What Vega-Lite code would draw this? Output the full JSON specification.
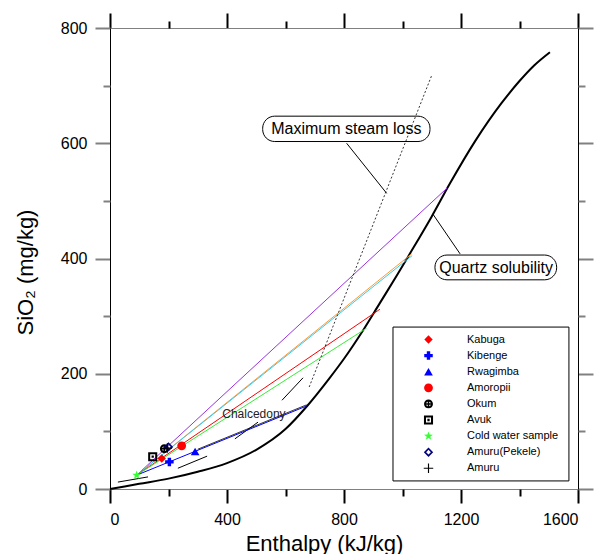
{
  "$schema": "https://vega.github.io/schema/vega-lite/v6.json",
  "width": 468,
  "height": 461,
  "autosize": "none",
  "padding": {"left": 110, "top": 28, "right": 17, "bottom": 65},
  "background": "white",
  "config": {"view": {"stroke": null}, "font": "Liberation Sans",
    "axis": {"grid": false, "ticks": true, "tickOpacity": 1, "labelFont": "Liberation Sans", "titleFont": "Liberation Sans", "labelColor": "black", "titleColor": "black", "titleFontWeight": "normal"},
    "axisX": {"ticks": true, "tickOpacity": 1},
    "axisY": {"ticks": true, "tickOpacity": 1},
    "axisBottom": {"ticks": true, "tickOpacity": 1},
    "axisLeft": {"ticks": true, "tickOpacity": 1}},
  "resolve": {"axis": {"x": "independent", "y": "independent"}},
  "layer": [
    {
      "layer": [
        {
          "data": {"values": [{"h": 967.5, "h2": 1569, "s": 14, "s2": 281}]},
          "mark": {"type": "rect", "fill": "white", "stroke": "black", "strokeWidth": 1},
          "encoding": {
            "x": {"field": "h", "type": "quantitative", "scale": {"domain": [0, 1600], "nice": false, "zero": false},
              "axis": {"title": "Enthalpy (kJ/kg)", "values": [0, 400, 800, 1200, 1600], "format": "d", "ticks": true, "tickOpacity": 1,
                "tickSize": 14, "tickWidth": 2, "tickColor": "black", "domainColor": "#808080", "domainWidth": 1, "labelFontSize": 16, "labelPadding": 8,
                "titleFontSize": 22, "titleX": 214, "titleY": 61, "titleBaseline": "alphabetic", "titleAnchor": "middle", "titleAlign": "center"}},
            "x2": {"field": "h2"},
            "y": {"field": "s", "type": "quantitative", "scale": {"domain": [0, 800], "nice": false, "zero": false},
              "axis": {"title": "SiO₂ (mg/kg)", "values": [0, 200, 400, 600, 800], "format": "d", "ticks": true, "tickOpacity": 1,
                "tickSize": 15, "tickWidth": 2, "tickColor": "#808080", "domainColor": "black", "domainWidth": 1, "labelFontSize": 16, "labelPadding": 8,
                "titleFontSize": 22, "titleAngle": -90, "titleX": -85, "titleY": 244, "titleBaseline": "middle", "titleAlign": "center", "titleAnchor": "middle"}},
            "y2": {"field": "s2"}
          }
        },
        {
          "data": {"values": [
            {"h": 0, "s": 0}, {"h": 100, "s": 9}, {"h": 200, "s": 18}, {"h": 300, "s": 30}, {"h": 400, "s": 45},
            {"h": 500, "s": 68}, {"h": 600, "s": 104}, {"h": 674, "s": 144}, {"h": 750, "s": 192}, {"h": 800, "s": 226},
            {"h": 866, "s": 276}, {"h": 923, "s": 323}, {"h": 980, "s": 370}, {"h": 1026, "s": 409}, {"h": 1100, "s": 473},
            {"h": 1162, "s": 530}, {"h": 1250, "s": 605}, {"h": 1339, "s": 670}, {"h": 1400, "s": 708}, {"h": 1450, "s": 735},
            {"h": 1504, "s": 758}
          ]},
          "mark": {"type": "line", "color": "black", "strokeWidth": 2, "interpolate": "monotone"},
          "encoding": {
            "x": {"field": "h", "type": "quantitative"},
            "y": {"field": "s", "type": "quantitative"}
          }
        },
        {
          "data": {"values": [
            {"seg": 1, "h": 27, "s": 12}, {"seg": 1, "h": 130, "s": 21},
            {"seg": 2, "h": 232, "s": 36}, {"seg": 2, "h": 332, "s": 57},
            {"seg": 3, "h": 427, "s": 87}, {"seg": 3, "h": 506, "s": 116},
            {"seg": 4, "h": 588, "s": 154}, {"seg": 4, "h": 660, "s": 193}
          ]},
          "mark": {"type": "line", "color": "black", "strokeWidth": 1},
          "encoding": {
            "x": {"field": "h", "type": "quantitative"},
            "y": {"field": "s", "type": "quantitative"},
            "detail": {"field": "seg", "type": "nominal"}
          }
        },
        {
          "data": {"values": [
            {"mix": "purple", "h": 91, "s": 24}, {"mix": "purple", "h": 1152, "s": 522},
            {"mix": "orange", "h": 91, "s": 24}, {"mix": "orange", "h": 1031, "s": 408},
            {"mix": "cyan", "h": 91, "s": 24}, {"mix": "cyan", "h": 1033, "s": 405},
            {"mix": "red", "h": 91, "s": 24}, {"mix": "red", "h": 923, "s": 312},
            {"mix": "green", "h": 91, "s": 24}, {"mix": "green", "h": 877, "s": 279},
            {"mix": "blue", "h": 91, "s": 24}, {"mix": "blue", "h": 672, "s": 144}
          ]},
          "mark": {"type": "line", "strokeWidth": 1},
          "encoding": {
            "x": {"field": "h", "type": "quantitative"},
            "y": {"field": "s", "type": "quantitative"},
            "stroke": {"field": "mix", "type": "nominal", "legend": null,
              "scale": {"domain": ["purple", "orange", "cyan", "red", "green", "blue"], "range": ["#9933DD", "#FF9933", "#33CCEE", "#FF0000", "#33EE33", "#0000FF"]}},
            "strokeWidth": {"field": "mix", "type": "nominal", "legend": null,
              "scale": {"domain": ["purple", "orange", "cyan", "red", "green", "blue"], "range": [1, 1, 1, 1, 1, 1.6]}}
          }
        },
        {
          "data": {"values": [{"h": 300, "s": 69}, {"h": 672, "s": 146}]},
          "mark": {"type": "line", "color": "black", "strokeWidth": 0.8},
          "encoding": {
            "x": {"field": "h", "type": "quantitative"},
            "y": {"field": "s", "type": "quantitative"}
          }
        },
        {
          "data": {"values": [
            {"h": 809, "s": 600, "h2": 946, "s2": 513},
            {"h": 1104, "s": 477, "h2": 1197, "s2": 408}
          ]},
          "mark": {"type": "rule", "color": "black", "strokeWidth": 1},
          "encoding": {
            "x": {"field": "h", "type": "quantitative"},
            "y": {"field": "s", "type": "quantitative"},
            "x2": {"field": "h2"},
            "y2": {"field": "s2"}
          }
        },
        {
          "data": {"values": [
            {"h": 522, "h2": 1094, "s": 603, "s2": 647},
            {"h": 1111, "h2": 1527, "s": 363, "s2": 406}
          ]},
          "mark": {"type": "rect", "fill": "white", "stroke": "black", "strokeWidth": 1, "cornerRadius": 12},
          "encoding": {
            "x": {"field": "h", "type": "quantitative"},
            "x2": {"field": "h2"},
            "y": {"field": "s", "type": "quantitative"},
            "y2": {"field": "s2"}
          }
        },
        {
          "data": {"values": [
            {"h": 808, "s": 625, "label": "Maximum steam loss"},
            {"h": 1320, "s": 384, "label": "Quartz solubility"}
          ]},
          "mark": {"type": "text", "fontSize": 16, "font": "Liberation Sans", "color": "black", "align": "center", "baseline": "middle"},
          "encoding": {
            "x": {"field": "h", "type": "quantitative"},
            "y": {"field": "s", "type": "quantitative"},
            "text": {"field": "label"}
          }
        },
        {
          "data": {"values": [{"h": 492, "s": 130, "label": "Chalcedony"}]},
          "mark": {"type": "text", "fontSize": 12, "font": "Liberation Sans", "color": "#222222", "align": "center", "baseline": "middle"},
          "encoding": {
            "x": {"field": "h", "type": "quantitative"},
            "y": {"field": "s", "type": "quantitative"},
            "text": {"field": "label"}
          }
        },
        {
          "data": {"values": [
            {"site": "Kabuga", "h": 177, "s": 53},
            {"site": "Kibenge", "h": 203, "s": 47},
            {"site": "Rwagimba", "h": 291, "s": 65},
            {"site": "Amoropii", "h": 245, "s": 75},
            {"site": "Okum", "h": 186, "s": 70},
            {"site": "Avuk", "h": 146, "s": 56},
            {"site": "Amuru(Pekele)", "h": 200, "s": 73},
            {"site": "Amuru", "h": 196, "s": 71},
            {"site": "Cold water sample", "h": 91, "s": 24}
          ]},
          "mark": {"type": "point", "filled": true, "opacity": 1, "strokeWidth": 0},
          "encoding": {
            "x": {"field": "h", "type": "quantitative"},
            "y": {"field": "s", "type": "quantitative"},
            "color": {"field": "site", "type": "nominal",
              "scale": {"domain": ["Kabuga", "Kibenge", "Rwagimba", "Amoropii", "Okum", "Avuk", "Cold water sample", "Amuru(Pekele)", "Amuru"],
                "range": ["#FF0000", "#0000FF", "#0000FF", "#FF0000", "#000000", "#000000", "#33FF33", "#000080", "#000000"]},
              "legend": {"orient": "none", "legendX": 313, "legendY": 306, "title": null, "labelFont": "Liberation Sans", "labelFontSize": 11, "labelColor": "black", "rowPadding": 4.1, "labelOffset": 33, "symbolStrokeWidth": 0, "gridAlign": "all", "padding": 0}},
            "shape": {"field": "site", "type": "nominal",
              "scale": {"domain": ["Kabuga", "Kibenge", "Rwagimba", "Amoropii", "Okum", "Avuk", "Cold water sample", "Amuru(Pekele)", "Amuru"],
                "range": ["diamond", "cross", "triangle-up", "circle",
                  "M-1,0A1,1,0,1,1,1,0A1,1,0,1,1,-1,0Z M-0.55,0A0.55,0.55,0,1,0,0.55,0A0.55,0.55,0,1,0,-0.55,0Z M-0.8,-0.17L0.8,-0.17L0.8,0.17L-0.8,0.17Z M-0.17,-0.8L0.17,-0.8L0.17,0.8L-0.17,0.8Z",
                  "M-1,-1L1,-1L1,1L-1,1Z M-0.55,-0.55L-0.55,0.55L0.55,0.55L0.55,-0.55Z M-0.25,-0.25L0.25,-0.25L0.25,0.25L-0.25,0.25Z",
                  "M0,-1L0.235,-0.324L0.951,-0.309L0.38,0.124L0.588,0.809L0,0.4L-0.588,0.809L-0.38,0.124L-0.951,-0.309L-0.235,-0.324Z",
                  "M0,-1L1,0L0,1L-1,0Z M0,-0.5L-0.5,0L0,0.5L0.5,0Z",
                  "M-1,-0.12L1,-0.12L1,0.12L-1,0.12Z M-0.12,-1L0.12,-1L0.12,1L-0.12,1Z"]},
              "legend": {"orient": "none", "legendX": 313, "legendY": 306, "title": null, "labelFont": "Liberation Sans", "labelFontSize": 11, "labelColor": "black", "rowPadding": 4.1, "labelOffset": 33, "symbolStrokeWidth": 0, "gridAlign": "all", "padding": 0}},
            "size": {"field": "site", "type": "nominal",
              "scale": {"domain": ["Kabuga", "Kibenge", "Rwagimba", "Amoropii", "Okum", "Avuk", "Cold water sample", "Amuru(Pekele)", "Amuru"],
                "range": [70, 90, 240, 120, 90, 90, 110, 80, 170]},
              "legend": {"orient": "none", "legendX": 313, "legendY": 306, "title": null, "labelFont": "Liberation Sans", "labelFontSize": 11, "labelColor": "black", "rowPadding": 4.1, "labelOffset": 33, "symbolStrokeWidth": 0, "gridAlign": "all", "padding": 0}}
          }
        }
      ]
    },
    {
      "data": {"values": [{"h": 681, "s": 177}, {"h": 1100, "s": 718}]},
      "mark": {"type": "line", "color": "black", "strokeWidth": 0.8, "strokeDash": [2, 2]},
      "encoding": {
        "x": {"field": "h", "type": "quantitative", "scale": {"domain": [0, 1600], "nice": false, "zero": false},
          "axis": {"orient": "top", "title": null, "labels": false, "values": [0, 400, 800, 1200, 1600], "ticks": true, "tickOpacity": 1,
            "tickSize": 15, "tickWidth": 2, "tickColor": "black", "domainColor": "#808080", "domainWidth": 1}},
        "y": {"field": "s", "type": "quantitative", "scale": {"domain": [0, 800], "nice": false, "zero": false},
          "axis": {"orient": "right", "title": null, "labels": false, "values": [0, 200, 400, 600, 800], "ticks": true, "tickOpacity": 1,
            "tickSize": 15, "tickWidth": 2, "tickColor": "#808080", "domainColor": "black", "domainWidth": 1}}
      }
    },
    {
      "data": {"values": [{"h": 681, "s": 177}, {"h": 1100, "s": 718}]},
      "mark": {"type": "point", "opacity": 0},
      "encoding": {
        "x": {"field": "h", "type": "quantitative", "scale": {"domain": [0, 1600], "nice": false, "zero": false},
          "axis": {"orient": "bottom", "title": null, "labels": false, "domain": false, "values": [200, 600, 1000, 1400], "ticks": true, "tickOpacity": 1,
            "tickSize": 7, "tickWidth": 2, "tickColor": "black"}},
        "y": {"field": "s", "type": "quantitative", "scale": {"domain": [0, 800], "nice": false, "zero": false},
          "axis": {"orient": "left", "title": null, "labels": false, "domain": false, "values": [100, 300, 500, 700], "ticks": true, "tickOpacity": 1,
            "tickSize": 7, "tickWidth": 2, "tickColor": "#808080"}}
      }
    },
    {
      "data": {"values": [{"h": 681, "s": 177}, {"h": 1100, "s": 718}]},
      "mark": {"type": "point", "opacity": 0},
      "encoding": {
        "x": {"field": "h", "type": "quantitative", "scale": {"domain": [0, 1600], "nice": false, "zero": false},
          "axis": {"orient": "top", "title": null, "labels": false, "domain": false, "values": [200, 600, 1000, 1400], "ticks": true, "tickOpacity": 1,
            "tickSize": 7, "tickWidth": 2, "tickColor": "black"}},
        "y": {"field": "s", "type": "quantitative", "scale": {"domain": [0, 800], "nice": false, "zero": false},
          "axis": {"orient": "right", "title": null, "labels": false, "domain": false, "values": [100, 300, 500, 700], "ticks": true, "tickOpacity": 1,
            "tickSize": 7, "tickWidth": 2, "tickColor": "#808080"}}
      }
    }
  ]
}
